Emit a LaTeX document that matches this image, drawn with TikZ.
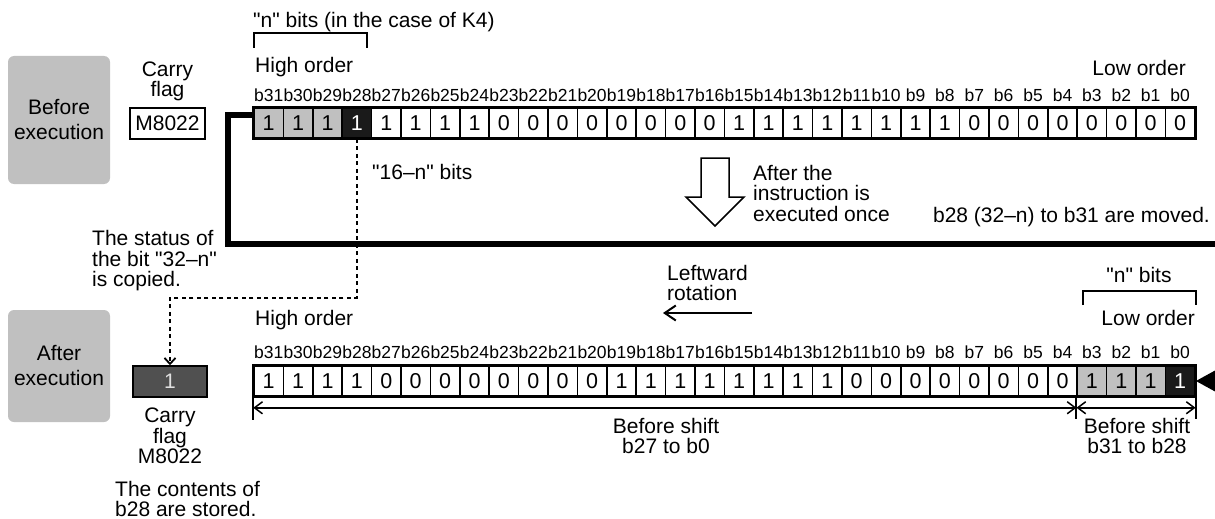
\documentclass[tikz,border=0pt]{standalone}
\usepackage{fontspec}
\setmainfont{Liberation Sans}
\usetikzlibrary{arrows.meta,positioning,calc}
\definecolor{rcgray}{HTML}{C0C0C0}
\definecolor{rcdark}{HTML}{1A1A1A}
\definecolor{rccarry}{HTML}{505050}
\newcommand\qt{\textquotedbl}

\begin{document}
\begin{tikzpicture}[
  x=1pt, y=-1pt,
  font=\fontsize{21}{20.5}\selectfont,
  >={Straight Barb[length=8pt,width=12pt]},
  phase/.style={fill=rcgray, rounded corners=6pt, minimum width=102pt,
                minimum height=128pt, align=center, inner sep=0pt,
                font=\fontsize{21}{25}\selectfont},
  bitc/.style={draw, line width=1.5pt, minimum width=29.4pt, minimum height=30pt,
               inner sep=0pt, font=\fontsize{21.5}{21.5}\selectfont},
  bitg/.style={bitc, fill=rcgray},
  bitk/.style={bitc, fill=rcdark, text=white},
  bitno/.style={font=\fontsize{17.5}{17.5}\selectfont, inner sep=0pt},
  flagbox/.style={draw, line width=1.5pt, minimum width=75pt, minimum height=31pt,
                  inner sep=0pt},
  txt/.style={inner sep=0pt, align=left},
  loopline/.style={line width=6.5pt, line join=miter},
  dotline/.style={line width=1.8pt, dash pattern=on 4pt off 3.5pt},
  dimline/.style={line width=1.5pt, <->},
  dimtick/.style={line width=2pt},
]
\useasboundingbox (0,0) rectangle (1215,519);

% ===== phase boxes =====
\node[phase] (bef) at (59,120) {Before\\execution};
\node[phase, minimum height=112pt] (aft) at (59,366) {After\\execution};

% ===== register before execution =====
\foreach \v [count=\p from 0] in {1,1,1,1,1,1,1,1,0,0,0,0,0,0,0,0,1,1,1,1,1,1,1,1,0,0,0,0,0,0,0,0} {
  \pgfmathtruncatemacro\k{31-\p}
  \ifnum\k>28 \def\sty{bitg}\else\ifnum\k=28 \def\sty{bitk}\else\def\sty{bitc}\fi\fi
  \node[\sty] (t\k) at ({254+29.4*(\p+0.5)},123) {\v};
  \node[bitno, above=5.5pt of t\k] {b\k};
}
\draw[line width=2.2pt] (t31.north west) rectangle (t0.south east);

% ===== register after execution =====
\foreach \v [count=\p from 0] in {1,1,1,1,0,0,0,0,0,0,0,0,1,1,1,1,1,1,1,1,0,0,0,0,0,0,0,0,1,1,1,1} {
  \pgfmathtruncatemacro\k{31-\p}
  \ifnum\k=0 \def\sty{bitk}\else\ifnum\k<4 \def\sty{bitg}\else\def\sty{bitc}\fi\fi
  \node[\sty] (b\k) at ({254+29.4*(\p+0.5)},381) {\v};
  \node[bitno, above=6.5pt of b\k] {b\k};
}
\draw[line width=2.2pt] (b31.north west) rectangle (b0.south east);

% ===== carry flags =====
\node[flagbox] (cflag) at (167.5,123.5) {M8022};
\node[txt, align=center, above=6pt of cflag, font=\fontsize{21}{18.5}\selectfont] (cflagT) {Carry\\flag};
\node[flagbox, fill=rccarry, text=white!88!black, minimum width=74pt] (cbox) at (170,381.5) {1};
\node[txt, align=center, below=10pt of cbox] (cboxT) {Carry\\flag\\M8022};
\node[txt, anchor=west] (stored) at (115,499) {The contents of\\b28 are stored.};

% ===== labels, top row =====
\node[txt, anchor=base west] (nbitsA) at (253,28) {\qt n\qt{} bits (in the case of K4)};
\draw[line width=2pt] (254,48) -- (254,33) -- (367,33) -- (367,48);
\node[txt, anchor=base west] (hiA) at (255,73) {High order};
\node[txt, anchor=base east] (loA) at (1186,75) {Low order};
\node[txt, anchor=west] (sixt) at (372,172) {\qt 16–n\qt{} bits};

% ===== execution step =====
\draw[line width=1.5pt, fill=white] (701,158) -- (729,158) -- (729,197) -- (744,197)
  -- (715,226) -- (686,197) -- (701,197) -- cycle;
\node[txt, anchor=west] (afterT) at (753,193) {After the\\instruction is\\executed once};
\node[txt, anchor=east] (moved) at (1210,217) {b28 (32–n) to b31 are moved.};
\node[txt, anchor=west] (status) at (92,261) {The status of\\the bit \qt 32–n\qt\\is copied.};

% ===== rotation loop =====
\coordinate (loopC) at (228,244);
\coordinate (loopR) at (1215,244);
\coordinate (loopIn) at (1216,381);
\draw[loopline] ($(t31.west)+(0,-8)$) -| (loopC) -- (loopR);
\draw[line width=6.5pt, -{Triangle[length=20pt,width=20pt]}] (loopIn) -- (b0.east);

% copy of b28 into carry
\draw[dotline, ->, >={Straight Barb[length=6pt,width=11pt]}]
  (t28.south) -- ++(0,159) -| (cbox.north);

% ===== labels, bottom row =====
\node[txt, anchor=west] (rotT) at (667,283) {Leftward\\rotation};
\coordinate (rotS) at (752,313);
\coordinate (rotE) at (663,313);
\draw[line width=2pt, -{Straight Barb[length=11pt,width=15pt]}] (rotS) -- (rotE);
\node[txt, anchor=base] (nbitsB) at (1139,282) {\qt n\qt{} bits};
\draw[line width=2pt] (1083,305) -- (1083,291) -- (1196,291) -- (1196,305);
\node[txt, anchor=base west] (hiB) at (255,325) {High order};
\node[txt, anchor=base east] (loB) at (1195,325) {Low order};

% ===== shift ranges =====
\draw[dimtick] (b31.south west) -- ++(0,23);
\draw[dimtick] (b3.south west) -- ++(0,22);
\draw[dimtick] (b0.south east) -- ++(0,22);
\coordinate (dA) at ($(b31.south west)+(0,11)$);
\coordinate (dB) at ($(b3.south west)+(0,11)$);
\coordinate (dC) at ($(b0.south east)+(0,11)$);
\draw[dimline] (dA) -- (dB);
\draw[dimline] (dB) -- (dC);
\node[txt, align=center] (shA) at (666,436) {Before shift\\b27 to b0};
\node[txt, align=center] (shB) at (1137,436) {Before shift\\b31 to b28};

\end{tikzpicture}
\end{document}
